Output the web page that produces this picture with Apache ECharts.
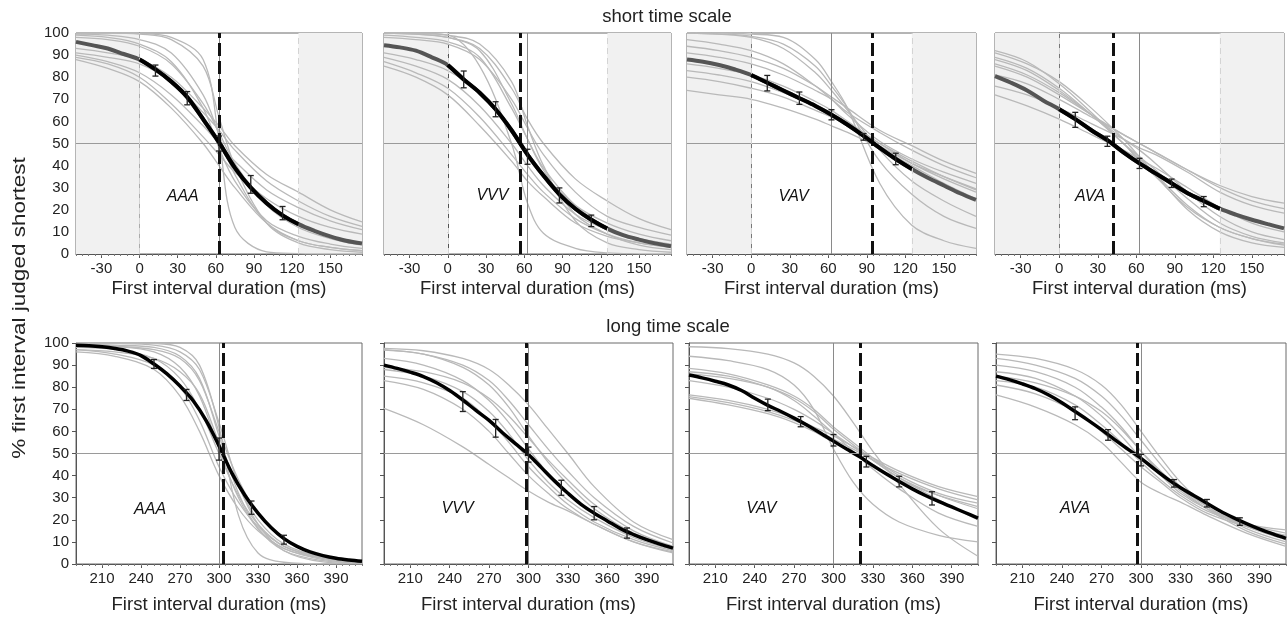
<!DOCTYPE html>
<html>
<head>
<meta charset="utf-8">
<script src="https://cdn.jsdelivr.net/npm/echarts/dist/echarts.min.js"></script>
<style>
html,body{margin:0;padding:0;background:#fff;}
#chart{width:1288px;height:619px;}
</style>
</head>
<body>
<div id="chart"></div>
<script>
// ---------------- DATA ----------------
const conditions = ['AAA', 'VVV', 'VAV', 'AVA'];
const shortTicks = [-30, 0, 30, 60, 90, 120, 150];
const longTicks = [210, 240, 270, 300, 330, 360, 390];
const shortStandard = 62.5;
const longStandard = 300;
const shortRange = [-50, 175];
const longRange = [190, 410];
const shortDataRange = [0, 125];

const shortX = [-50, -25, 0, 25, 50, 62.5, 75, 100, 125, 150, 175];
const longX = [190, 220, 250, 270, 285, 300, 315, 330, 350, 380, 410];
const meanShortX = [-50, -37.5, -25, -12.5, 0, 12.5, 25, 37.5, 50, 62.5, 75, 87.5, 100, 112.5, 125, 137.5, 150, 162.5, 175];
const meanLongX = [190, 200, 210, 220, 230, 240, 250, 260, 270, 280, 290, 300, 310, 320, 330, 340, 350, 360, 370, 380, 390, 400, 410];

const pseShort = [63, 57, 94, 42];
const pseLong = [303, 298, 320, 297];

// individual participants (short time scale)
const aaaShortGrey = [
  [100, 100, 99.8, 98, 88, 52, 12, 1, 0.2, 0, 0],
  [100, 100, 99.5, 97, 85, 62, 40, 14, 5, 2, 0.8],
  [99.5, 99, 97, 91, 72, 54, 36, 14, 6, 3, 1.5],
  [99, 98, 95, 87, 66, 48, 33, 15, 8, 4.5, 2.5],
  [98, 97, 94, 86, 68, 55, 41, 22, 12, 7, 4],
  [93, 91, 88, 80, 66, 58, 49, 36, 28, 20, 14.5],
  [91, 89, 86, 78, 64, 56, 47, 33, 24, 17, 12.5],
  [90, 87, 82, 72, 58, 50, 42, 29, 21, 15, 11],
  [89, 86, 80, 68, 53, 45, 37, 25, 17, 12, 9],
  [88, 84, 78, 66, 50, 40, 30, 14, 6, 3, 1.5]
];
const vvvShortGrey = [
  [100, 99.8, 99, 85, 50, 23, 9.4, 2.6, 0.5, 0.1, 0],
  [100, 99.5, 98, 92, 68, 52, 38, 18, 9, 4, 2],
  [99, 98, 96, 89, 66, 52, 39, 22, 12, 6, 3],
  [100, 99.5, 98, 93, 75, 61, 50, 34, 24, 16, 11],
  [98, 97, 95, 88, 70, 57, 45, 28, 17, 12, 8.5],
  [91, 88, 83, 73, 55, 45, 36, 22, 14, 9, 6],
  [89, 85, 79, 67, 50, 40, 31, 18, 11, 7, 4.5],
  [87, 82, 75, 62, 45, 36, 28, 16, 9, 5, 3],
  [85, 80, 72, 58, 42, 33, 26, 14, 8, 5, 3],
  [100, 100, 99, 95, 78, 58, 40, 15, 5, 2, 0.8]
];
const vavShortGrey = [
  [100, 100, 99.5, 98, 88, 78, 66, 32, 13, 6, 2.5],
  [100, 99.5, 98.5, 95, 85, 76, 66, 42, 27, 17, 11.6],
  [94, 92, 89, 84, 76, 71, 66, 56, 49, 42, 36.5],
  [91, 89, 86, 81, 74, 70, 64, 55, 47, 40, 34.5],
  [97, 95, 92, 86, 76, 70, 63, 51, 43, 37, 32],
  [74, 72, 70, 66, 61, 58, 55, 48, 40, 32, 25],
  [80, 78, 75, 71, 65, 62, 58, 50, 42, 35, 29],
  [83, 81, 78, 73, 67, 63, 58, 49, 41, 35, 29.5],
  [86, 84, 81, 76, 69, 65, 60, 50, 41, 34, 28],
  [100, 99.5, 98, 93, 82, 74, 65, 47, 33, 24, 17]
];
const avaShortGrey = [
  [92, 87, 77, 64, 50, 43, 36, 22, 12, 7, 4],
  [89, 84, 75, 63, 50, 44, 38, 25, 14, 8, 5],
  [86, 81, 73, 63, 52, 47, 41, 28, 17, 10, 6.5],
  [85, 80, 72, 63, 54, 50, 46, 38, 31, 26, 23],
  [81, 77, 70, 62, 54, 50, 46, 38, 30, 24, 20.5],
  [76, 72, 66, 59, 52, 48, 45, 37, 28, 22, 18.5],
  [72, 67, 61, 54, 47, 43, 39, 30, 21, 14, 10],
  [88, 83, 74, 63, 50, 42, 35, 21, 12, 7, 4.5],
  [91, 86, 78, 66, 52, 44, 36, 20, 10, 5, 3]
];

// individual participants (long time scale)
const aaaLongGrey = [
  [100, 100, 99.8, 98, 90, 62, 22, 5, 0.8, 0, 0],
  [99.5, 99, 98, 94, 84, 58, 32, 16, 6, 1.5, 0.5],
  [99, 98.5, 96, 89, 76, 52, 30, 16, 7, 2, 0.6],
  [98, 97, 93, 84, 70, 50, 31, 18, 8, 2.5, 0.8],
  [97, 95, 90, 80, 65, 44, 28, 17, 8, 3, 1],
  [96, 94, 88, 76, 60, 40, 25, 15, 7, 2.5, 1],
  [97, 96, 93, 87, 77, 55, 35, 20, 9, 3, 1],
  [100, 99.8, 99, 96, 88, 64, 36, 18, 6, 1, 0.3],
  [99, 98.5, 97, 93, 83, 60, 38, 23, 11, 3.5, 1.5]
];
const vvvLongGrey = [
  [97.6, 96.5, 93, 88, 81, 72, 61, 50, 35, 19, 11],
  [97, 95, 90, 83, 74, 63, 52, 42, 30, 17, 9.5],
  [96.8, 95, 89, 81, 71, 58, 46, 36, 25, 14, 8],
  [93, 90, 83, 74, 64, 52, 41, 32, 23, 13, 7],
  [88, 85, 78, 69, 59, 47, 37, 29, 21, 12, 6.5],
  [85, 82, 75, 65, 55, 44, 35, 27, 19, 11, 6],
  [83, 79, 70, 60, 50, 40, 32, 25, 18, 10, 5.5],
  [70.4, 63, 53, 45, 39, 33, 28, 24, 18, 10, 5],
  [89, 87, 82, 75, 67, 57, 47, 38, 27, 15, 8]
];
const vavLongGrey = [
  [98.3, 97.5, 95, 91, 85, 76, 64, 51, 36, 16, 3.5],
  [94, 92, 88, 81, 70, 52, 37, 27, 19, 13, 10],
  [88.5, 86, 81, 76, 70, 62, 55, 48, 40, 32, 27.5],
  [87, 85, 80, 75, 69, 61, 54, 47, 39, 31, 25],
  [76.5, 74, 70, 66, 62, 58, 53, 48, 42, 35, 30.5],
  [75.7, 73, 69, 65, 61, 56.5, 52, 47, 41, 34, 29],
  [75, 72, 68, 64, 60, 55, 50, 45, 38, 31, 26],
  [83, 80, 75, 70, 65, 59, 53, 47, 39, 29, 20],
  [86, 84, 80, 74, 67, 59, 51, 43, 34, 23, 17]
];
const avaLongGrey = [
  [95, 93, 88, 81, 72, 60, 48, 37, 26, 16, 10],
  [93, 90, 84, 76, 67, 56, 45, 35, 26, 17, 11],
  [90, 87, 80, 71, 62, 51, 41, 33, 25, 17, 12.5],
  [87, 84, 76, 67, 58, 48, 40, 32, 25, 18, 14],
  [83, 80, 72, 63, 55, 46, 38, 31, 24, 18, 15.4],
  [81, 77, 69, 60, 52, 44, 37, 30, 23, 17, 13],
  [76.5, 71, 63, 55, 46, 37, 32, 28, 22, 14, 8],
  [85, 82, 76, 69, 61, 51, 42, 34, 25, 15, 9]
];

// group mean fits
const aaaShortMean = [96, 94.5, 93, 90.5, 88, 83.5, 78, 71, 61, 50.5, 39, 30, 23, 17.5, 13.5, 10.5, 8, 6, 4.8];
const vvvShortMean = [94.5, 93.5, 92, 89, 85.5, 79, 73, 65.5, 56, 45, 35.5, 27, 20.5, 15.5, 11.5, 8.5, 6.5, 4.8, 3.5];
const vavShortMean = [88, 87, 85.5, 83.5, 81, 77.5, 74, 70.5, 67, 63, 58.5, 53.5, 48, 43, 38.5, 34.5, 31, 27.5, 24.5];
const avaShortMean = [80.5, 77.5, 74, 69.5, 65.5, 61, 56, 51.5, 46, 41, 36.5, 32, 27.5, 24, 20.5, 17.8, 15.5, 13.5, 11.6];
const aaaLongMean = [99, 98.8, 98.3, 97.5, 96.3, 94.3, 90.5, 86, 80.5, 74, 65, 53.5, 41, 31, 23, 16.5, 11.5, 8, 5.5, 3.8, 2.6, 1.8, 1.2];
const vvvLongMean = [90, 88.5, 86.8, 84.8, 82, 78.5, 74.2, 69.5, 65, 59.5, 54.5, 49.5, 43.5, 37.5, 32, 27, 23, 19.5, 16, 13.3, 11, 9, 7.2];
const vavLongMean = [85.5, 84.2, 82.7, 81, 78.5, 75, 71.8, 69, 66, 62.8, 59.3, 55.6, 52, 48.5, 44.5, 40.8, 37.3, 34, 31, 28.3, 25.8, 23.3, 20.8];
const avaLongMean = [85, 83.4, 81.5, 79.3, 76.5, 73, 69, 65, 60.8, 56.3, 52, 47.8, 43, 38.5, 34.5, 31, 27.5, 24, 21, 18.3, 15.8, 13.6, 11.6];

// error bars: [x, mean, half-length]
const aaaShortErr = [[12.5, 83, 2.5], [37.5, 70.5, 3], [62.5, 50, 3.4], [87.5, 31.5, 4], [112.5, 18.5, 3]];
const vvvShortErr = [[12.5, 79, 3.8], [37.5, 65.5, 3.4], [62.5, 44, 3.4], [87.5, 26.5, 3.4], [112.5, 15, 2.6]];
const vavShortErr = [[12.5, 77.3, 3.5], [37.5, 70.5, 2.8], [62.5, 63, 2.3], [87.5, 53, 1.5], [112.5, 43, 2.6]];
const avaShortErr = [[12.5, 60.7, 3.4], [37.5, 51, 2.3], [62.5, 41, 2.3], [87.5, 32, 1.9], [112.5, 23.7, 2.3]];
const aaaLongErr = [[250, 90.5, 2], [275, 76.5, 2.5], [300, 52, 5], [325, 25.5, 3], [350, 11, 2]];
const vvvLongErr = [[250, 73.5, 4.5], [275, 61.4, 4], [300, 49.5, 3.4], [325, 34.5, 3.4], [350, 23, 3], [375, 14, 2.3]];
const vavLongErr = [[250, 72, 2.6], [275, 64.4, 2.3], [300, 56, 2.6], [325, 46.3, 2.4], [350, 37.3, 2.4], [375, 29.7, 3]];
const avaLongErr = [[250, 68.2, 2.9], [275, 58.4, 2.4], [300, 47, 2.6], [325, 36.5, 1.7], [350, 27.5, 1.7], [375, 19.2, 1.7]];

// ---------------- LAYOUT ----------------
const gridLeft = [76, 384, 687, 995, 76, 384, 689, 996];
const gridWidth = [286, 287, 289, 289, 286, 289, 289, 290];
const gridTop = [33, 33, 33, 33, 343, 343, 343, 343];
const gridHeight = 221;
const condLabelPos = [[34, 26], [35, 26.5], [33, 26], [24, 26], [247, 24.5], [246, 25], [245, 25], [250, 25]];

const panels = [
  {grey: aaaShortGrey, mean: aaaShortMean, err: aaaShortErr},
  {grey: vvvShortGrey, mean: vvvShortMean, err: vvvShortErr},
  {grey: vavShortGrey, mean: vavShortMean, err: vavShortErr},
  {grey: avaShortGrey, mean: avaShortMean, err: avaShortErr},
  {grey: aaaLongGrey, mean: aaaLongMean, err: aaaLongErr},
  {grey: vvvLongGrey, mean: vvvLongMean, err: vvvLongErr},
  {grey: vavLongGrey, mean: vavLongMean, err: vavLongErr},
  {grey: avaLongGrey, mean: avaLongMean, err: avaLongErr}
];

const FONT = 'Liberation Sans, Arial, Helvetica, sans-serif';
const grids = [], xAxes = [], yAxes = [], series = [];

function zip(xs, ys) { return ys.map((v, k) => [xs[k], v]); }

panels.forEach((p, i) => {
  const isShort = i < 4;
  const col = i % 4;
  const range = isShort ? shortRange : longRange;
  const ticks = isShort ? shortTicks : longTicks;
  const gx = isShort ? shortX : longX;
  const mx = isShort ? meanShortX : meanLongX;
  const minor = [];
  for (let v = range[0]; v <= range[1]; v += 5) minor.push(v);

  grids.push({left: gridLeft[i], top: gridTop[i], width: gridWidth[i], height: gridHeight,
    show: true, borderColor: '#6a6a6a', borderWidth: 1, backgroundColor: '#fff', containLabel: false});

  xAxes.push({
    gridIndex: i, type: 'value', min: range[0], max: range[1], position: 'bottom',
    axisLine: {show: true, onZero: false, lineStyle: {color: '#555', width: 1}},
    axisTick: {show: true, customValues: ticks, length: 4, lineStyle: {color: '#555'}},
    axisLabel: {show: true, customValues: ticks, fontSize: 15, color: '#222', margin: 7, fontFamily: FONT},
    splitLine: {show: false},
    name: 'First interval duration (ms)', nameLocation: 'middle', nameGap: isShort ? 25 : 31,
    nameTextStyle: {fontSize: 18.5, color: '#222', fontFamily: FONT}
  });
  xAxes.push({
    gridIndex: i, type: 'value', min: range[0], max: range[1], position: 'bottom', offset: 0,
    axisLine: {show: false, onZero: false},
    axisTick: {show: true, customValues: minor, length: 2, lineStyle: {color: '#777'}},
    axisLabel: {show: false}, splitLine: {show: false}
  });
  yAxes.push({
    gridIndex: i, type: 'value', min: 0, max: 100, interval: 10,
    axisLine: {show: true, lineStyle: {color: '#555', width: 1}},
    axisTick: {show: true, length: 4, lineStyle: {color: '#555'}},
    axisLabel: {show: col === 0, fontSize: 15, color: '#222', margin: 7, fontFamily: FONT},
    splitLine: {show: false}
  });

  const xi = 2 * i;
  // background shading and reference lines
  const mlData = [
    {yAxis: 50, lineStyle: {color: '#9a9a9a', width: 1, type: 'solid'}},
    {xAxis: isShort ? shortStandard : longStandard, lineStyle: {color: '#8a8a8a', width: 1, type: 'solid'}}
  ];
  if (isShort) {
    mlData.push({xAxis: shortDataRange[0], lineStyle: {color: '#d4d4d4', width: 1, type: [6, 4]}});
    mlData.push({xAxis: shortDataRange[1], lineStyle: {color: '#d4d4d4', width: 1, type: [6, 4]}});
  }
  series.push({
    type: 'line', xAxisIndex: xi, yAxisIndex: i, data: [], z: 1, silent: true,
    markArea: isShort ? {silent: true, itemStyle: {color: '#f1f1f1'},
      data: [[{xAxis: range[0]}, {xAxis: shortDataRange[0]}], [{xAxis: shortDataRange[1]}, {xAxis: range[1]}]]} : undefined,
    markLine: {silent: true, symbol: 'none', label: {show: false}, animation: false, data: mlData}
  });

  // individual curves
  p.grey.forEach(g => {
    series.push({
      type: 'line', xAxisIndex: xi, yAxisIndex: i, data: zip(gx, g), smooth: 0.35,
      showSymbol: false, silent: true, z: 3,
      lineStyle: {color: '#b9b9b9', width: 1.3}
    });
  });

  // mean fit
  const meanData = zip(mx, p.mean);
  series.push({
    type: 'line', xAxisIndex: xi, yAxisIndex: i, data: meanData, smooth: 0.35,
    showSymbol: false, silent: true, z: 4,
    lineStyle: {color: isShort ? '#555' : '#000', width: isShort ? 4 : 3.5}
  });
  if (isShort) {
    series.push({
      type: 'line', xAxisIndex: xi, yAxisIndex: i,
      data: meanData.filter(d => d[0] >= shortDataRange[0] && d[0] <= shortDataRange[1]),
      smooth: 0.35, showSymbol: false, silent: true, z: 5,
      lineStyle: {color: '#000', width: 4}
    });
  }

  // error bars
  series.push({
    type: 'custom', xAxisIndex: xi, yAxisIndex: i, data: p.err, z: 6, silent: true,
    encode: {x: 0, y: 1},
    renderItem: function (params, api) {
      const x = api.value(0), y = api.value(1), h = api.value(2);
      const t = api.coord([x, y + h]), b = api.coord([x, y - h]);
      const w = 3;
      const st = {stroke: '#222', lineWidth: 1.3};
      return {type: 'group', children: [
        {type: 'line', shape: {x1: t[0], y1: t[1], x2: b[0], y2: b[1]}, style: st},
        {type: 'line', shape: {x1: t[0] - w, y1: t[1], x2: t[0] + w, y2: t[1]}, style: st},
        {type: 'line', shape: {x1: b[0] - w, y1: b[1], x2: b[0] + w, y2: b[1]}, style: st}
      ]};
    }
  });

  // PSE dashed line
  series.push({
    type: 'line', xAxisIndex: xi, yAxisIndex: i, data: [], z: 8, silent: true,
    markLine: {silent: true, symbol: 'none', label: {show: false}, animation: false,
      data: [{xAxis: isShort ? pseShort[col] : pseLong[col], lineStyle: {color: '#111', width: 3, type: [13, 5]}}]}
  });

  // condition label
  series.push({
    type: 'scatter', xAxisIndex: xi, yAxisIndex: i, data: [condLabelPos[i]], symbolSize: 1, z: 9, silent: true,
    itemStyle: {color: '#fff', opacity: 1},
    label: {show: true, position: 'inside', formatter: conditions[col], fontStyle: 'italic', opacity: 1,
      fontSize: 16, color: '#111', textBorderWidth: 0, fontFamily: FONT}
  });
});

const chart = echarts.init(document.getElementById('chart'), null, {renderer: 'canvas'});
chart.setOption({
  animation: false,
  backgroundColor: '#fff',
  grid: grids, xAxis: xAxes, yAxis: yAxes, series: series,
  graphic: [
    {type: 'text', x: 667, y: 17, style: {text: 'short time scale', fontSize: 18.5, fill: '#222', fontFamily: FONT, align: 'center', verticalAlign: 'middle'}},
    {type: 'text', x: 668, y: 327, style: {text: 'long time scale', fontSize: 18.5, fill: '#222', fontFamily: FONT, align: 'center', verticalAlign: 'middle'}},
    {type: 'text', x: 20, y: 308, rotation: Math.PI / 2, scaleX: 1.25,
      style: {text: '% first interval judged shortest', fontSize: 18, fill: '#222', fontFamily: FONT, align: 'center', verticalAlign: 'middle'}}
  ]
});
</script>
</body>
</html>
